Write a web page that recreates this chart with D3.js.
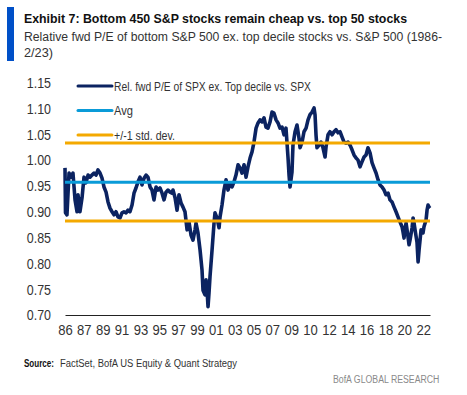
<!DOCTYPE html>
<html>
<head>
<meta charset="utf-8">
<script src="https://cdn.jsdelivr.net/npm/d3@7"></script>
<style>
  body { margin: 0; background: #fff; }
  text { font-family: "Liberation Sans", Arial, sans-serif; }
</style>
</head>
<body>
<div class="container"></div>
<script>
// decimal year of each reading
var years = [1986.00, 1986.05, 1986.20, 1986.41, 1986.61, 1986.81, 1987.02, 1987.22, 1987.32, 1987.52,
  1987.73, 1987.93, 1988.13, 1988.34, 1988.54, 1988.74, 1988.95, 1989.15, 1989.35, 1989.56,
  1989.76, 1989.96, 1990.17, 1990.37, 1990.57, 1990.78, 1990.98, 1991.18, 1991.38, 1991.59,
  1991.79, 1991.99, 1992.20, 1992.40, 1992.60, 1992.81, 1993.01, 1993.21, 1993.42, 1993.62,
  1993.82, 1994.03, 1994.23, 1994.43, 1994.64, 1994.84, 1995.04, 1995.25, 1995.45, 1995.65,
  1995.86, 1996.06, 1996.26, 1996.46, 1996.67, 1996.87, 1996.97, 1997.18, 1997.38, 1997.58,
  1997.79, 1997.99, 1998.19, 1998.40, 1998.60, 1998.80, 1999.00, 1999.21, 1999.31, 1999.51,
  1999.72, 1999.92, 2000.02, 2000.22, 2000.33, 2000.43, 2000.53, 2000.63, 2000.73, 2000.94,
  2001.14, 2001.24, 2001.44, 2001.65, 2001.75, 2001.95, 2002.15, 2002.36, 2002.56, 2002.76,
  2002.97, 2003.17, 2003.37, 2003.58, 2003.78, 2003.98, 2004.19, 2004.39, 2004.59, 2004.80,
  2005.00, 2005.20, 2005.41, 2005.61, 2005.81, 2006.02, 2006.22, 2006.42, 2006.62, 2006.83,
  2007.03, 2007.23, 2007.44, 2007.64, 2007.84, 2008.05, 2008.25, 2008.45, 2008.66, 2008.76,
  2008.86, 2009.06, 2009.16, 2009.37, 2009.57, 2009.77, 2009.88, 2010.08, 2010.28, 2010.49,
  2010.69, 2010.89, 2011.10, 2011.30, 2011.40, 2011.50, 2011.60, 2011.81, 2012.01, 2012.21,
  2012.42, 2012.52, 2012.72, 2012.92, 2013.13, 2013.33, 2013.53, 2013.74, 2013.94, 2014.14,
  2014.35, 2014.55, 2014.75, 2014.96, 2015.16, 2015.36, 2015.57, 2015.77, 2015.97, 2016.18,
  2016.38, 2016.58, 2016.78, 2016.99, 2017.19, 2017.39, 2017.60, 2017.80, 2018.00, 2018.21,
  2018.41, 2018.61, 2018.82, 2019.02, 2019.22, 2019.43, 2019.63, 2019.83, 2020.04, 2020.24,
  2020.34, 2020.44, 2020.54, 2020.65, 2020.85, 2020.95, 2021.05, 2021.26, 2021.36, 2021.46,
  2021.56, 2021.76, 2021.87, 2021.97, 2022.07, 2022.17, 2022.37, 2022.47, 2022.68, 2022.78,
  2022.88, 2022.98, 2023.08];

// Rel. fwd P/E of SPX ex. top decile vs. SPX
var relPE = [0.985, 0.898, 0.894, 0.975, 0.967, 0.975, 0.923, 0.900, 0.933, 0.900,
  0.927, 0.967, 0.956, 0.971, 0.967, 0.971, 0.975, 0.971, 0.981, 0.975,
  0.965, 0.948, 0.938, 0.919, 0.907, 0.900, 0.894, 0.900, 0.890, 0.888,
  0.898, 0.900, 0.898, 0.903, 0.900, 0.913, 0.936, 0.946, 0.958, 0.967,
  0.952, 0.965, 0.971, 0.967, 0.948, 0.942, 0.923, 0.948, 0.942, 0.946,
  0.936, 0.923, 0.938, 0.942, 0.938, 0.936, 0.942, 0.927, 0.903, 0.933,
  0.917, 0.909, 0.900, 0.865, 0.880, 0.855, 0.845, 0.865, 0.878, 0.859,
  0.826, 0.787, 0.748, 0.739, 0.768, 0.748, 0.716, 0.743, 0.774, 0.826,
  0.878, 0.898, 0.888, 0.869, 0.890, 0.913, 0.942, 0.962, 0.942, 0.956,
  0.948, 0.958, 0.971, 0.991, 0.985, 0.975, 0.991, 0.967, 0.987, 1.004,
  1.016, 1.035, 1.062, 1.072, 1.078, 1.074, 1.082, 1.064, 1.062, 1.074,
  1.093, 1.091, 1.078, 1.072, 1.062, 1.064, 1.049, 1.062, 1.004, 0.971,
  0.948, 0.977, 1.029, 1.055, 1.068, 1.043, 1.024, 1.035, 1.055, 1.062,
  1.078, 1.088, 1.093, 1.101, 1.088, 1.049, 1.024, 1.029, 1.035, 1.024,
  1.006, 1.026, 1.049, 1.055, 1.049, 1.055, 1.059, 1.053, 1.055, 1.045,
  1.035, 1.033, 1.035, 1.029, 1.020, 1.010, 1.004, 1.000, 0.987, 0.997,
  1.006, 1.010, 1.024, 1.014, 0.995, 0.985, 0.975, 0.962, 0.952, 0.948,
  0.942, 0.933, 0.936, 0.923, 0.919, 0.909, 0.900, 0.890, 0.880, 0.871,
  0.861, 0.849, 0.865, 0.878, 0.851, 0.836, 0.845, 0.869, 0.888, 0.878,
  0.865, 0.841, 0.803, 0.826, 0.845, 0.865, 0.859, 0.871, 0.884, 0.903,
  0.913, 0.909, 0.907];

var avgValue = 0.957;
var stdBands = [1.033, 0.882];

var yTicks = [0.70, 0.75, 0.80, 0.85, 0.90, 0.95, 1.00, 1.05, 1.10, 1.15];
var xLabels = ['86', '87', '89', '91', '93', '95', '97', '99', '01', '03',
  '05', '07', '09', '10', '12', '14', '16', '18', '20', '22'];

var legendNames = ['Rel. fwd P/E of SPX ex. Top decile vs. SPX', 'Avg', '+/-1 std. dev.'];

var data = years.map(function(y, i) { return { year: y, value: relPE[i] }; });

var w = 467;
var h = 395;
var navy = '#0b2361';
var blue = '#0a9bd8';
var orange = '#f4a900';
var textCol = '#333';

// no narrow font installed, so squeeze text horizontally
function squeeze(sel, factor) {
  sel.each(function() {
    var len = this.getComputedTextLength();
    d3.select(this)
      .attr('textLength', len * factor)
      .attr('lengthAdjust', 'spacingAndGlyphs');
  });
}
function fitTo(sel, width) {
  sel.attr('textLength', width).attr('lengthAdjust', 'spacingAndGlyphs');
}

var svg = d3.select('.container')
  .append('svg')
  .attr('width', w)
  .attr('height', h);

var xScale = d3.scaleLinear()
  .domain([1986, 2023.08])
  .range([65, 430]);

var yScale = d3.scaleLinear()
  .domain([0.70, 1.15])
  .range([315, 82.7]);

/* Title block */
svg.append('rect')
  .attr('x', 7).attr('y', 7)
  .attr('width', 7).attr('height', 54)
  .attr('fill', '#0050c8');

svg.append('text')
  .attr('x', 24).attr('y', 22.5)
  .attr('font-size', '13.5px')
  .attr('font-weight', 'bold')
  .attr('fill', '#111')
  .text('Exhibit 7: Bottom 450 S&P stocks remain cheap vs. top 50 stocks')
  .call(fitTo, 383);

svg.append('text')
  .attr('x', 24).attr('y', 41)
  .attr('font-size', '12.5px')
  .attr('fill', textCol)
  .text('Relative fwd P/E of bottom S&P 500 ex. top decile stocks vs. S&P 500 (1986-')
  .call(fitTo, 418);

svg.append('text')
  .attr('x', 24).attr('y', 57)
  .attr('font-size', '12.5px')
  .attr('fill', textCol)
  .text('2/23)')
  .call(fitTo, 29);

/* Axes */
var yAxis = d3.axisLeft(yScale)
  .tickValues(yTicks)
  .tickSize(0)
  .tickPadding(14)
  .tickFormat(d3.format('.2f'));

svg.append('g')
  .attr('transform', 'translate(65,0)')
  .call(yAxis)
  .call(function(g) { g.select('.domain').remove(); })
  .selectAll('text')
  .style('font-size', '15px')
  .style('font-family', '"Liberation Sans", Arial, sans-serif')
  .attr('fill', textCol)
  .call(squeeze, 0.83);

var tickStep = 1.915;
var xAxis = d3.axisBottom(xScale)
  .tickValues(xLabels.map(function(d, i) { return 1986 + i * tickStep; }))
  .tickSize(0)
  .tickPadding(9)
  .tickFormat(function(d, i) { return xLabels[i]; });

var xg = svg.append('g')
  .attr('transform', 'translate(0,315)')
  .call(xAxis);
xg.select('.domain').attr('stroke', '#222').attr('stroke-width', 1.2);
xg.selectAll('text')
  .style('font-size', '15px')
  .style('font-family', '"Liberation Sans", Arial, sans-serif')
  .attr('fill', textCol)
  .call(squeeze, 0.87);

/* Series line */
var line = d3.line()
  .x(function(d) { return xScale(d.year); })
  .y(function(d) { return yScale(d.value); });

svg.append('path')
  .datum(data)
  .attr('d', line)
  .attr('fill', 'none')
  .attr('stroke', navy)
  .attr('stroke-width', 3.6)
  .attr('stroke-linejoin', 'round');

/* Avg and std lines */
svg.append('line')
  .attr('x1', xScale(1986)).attr('x2', xScale(2023.08))
  .attr('y1', yScale(avgValue)).attr('y2', yScale(avgValue))
  .attr('stroke', blue)
  .attr('stroke-width', 3);

svg.selectAll('.std')
  .data(stdBands)
  .enter()
  .append('line')
  .attr('class', 'std')
  .attr('x1', xScale(1986)).attr('x2', xScale(2023.08))
  .attr('y1', function(d) { return yScale(d); })
  .attr('y2', function(d) { return yScale(d); })
  .attr('stroke', orange)
  .attr('stroke-width', 3);

/* Legend */
var legendCols = [navy, blue, orange];
var legendWidths = [197, 19, 61];
var legend = svg.selectAll('.legend')
  .data(legendNames)
  .enter()
  .append('g')
  .attr('class', 'legend')
  .attr('transform', function(d, i) { return 'translate(78,' + (86 + i * 24.5) + ')'; });

legend.append('line')
  .attr('x1', 0).attr('x2', 34)
  .attr('stroke', function(d, i) { return legendCols[i]; })
  .attr('stroke-width', 3)
  .attr('stroke-linecap', 'round');

legend.append('text')
  .attr('x', 36)
  .attr('y', 4.5)
  .attr('font-size', '12.5px')
  .attr('fill', textCol)
  .attr('textLength', function(d, i) { return legendWidths[i]; })
  .attr('lengthAdjust', 'spacingAndGlyphs')
  .text(function(d) { return d; });

/* Footer */
svg.append('text')
  .attr('x', 24).attr('y', 367)
  .attr('font-size', '10px')
  .attr('font-weight', 'bold')
  .attr('fill', '#111')
  .text('Source:')
  .call(fitTo, 30);

svg.append('text')
  .attr('x', 60).attr('y', 367)
  .attr('font-size', '10px')
  .attr('fill', textCol)
  .text('FactSet, BofA US Equity & Quant Strategy')
  .call(fitTo, 177);

svg.append('text')
  .attr('transform', 'translate(333,383) scale(0.76,1)')
  .attr('font-size', '11.5px')
  .attr('fill', '#8a8a8a')
  .text('BofA GLOBAL RESEARCH');
</script>
</body>
</html>
